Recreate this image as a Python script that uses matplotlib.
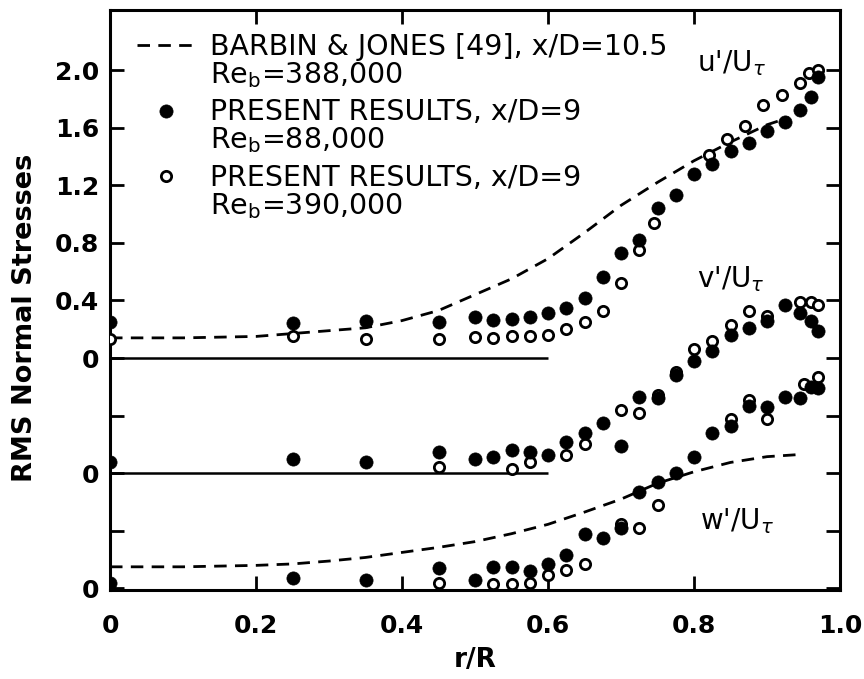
import numpy as np
import matplotlib
matplotlib.use("Agg")
import matplotlib.pyplot as plt
from matplotlib.legend_handler import HandlerLine2D
from matplotlib.lines import Line2D

# === staggering of the three profiles (in stress units) ===
V_SHIFT = -0.8
W_SHIFT = -1.6

# === Barbin & Jones [49], x/D=10.5 (dashed) ===
bj_u_r = [0.0, 0.1, 0.2, 0.25, 0.3, 0.35, 0.4, 0.45, 0.5, 0.55, 0.6, 0.65, 0.7, 0.75, 0.8, 0.85, 0.9, 0.93]
bj_u = [0.14, 0.14, 0.15, 0.17, 0.19, 0.21, 0.26, 0.33, 0.44, 0.55, 0.69, 0.87, 1.06, 1.22, 1.37, 1.50, 1.62, 1.67]
bj_w_r = [0.0, 0.1, 0.2, 0.25, 0.3, 0.35, 0.4, 0.45, 0.5, 0.55, 0.6, 0.65, 0.7, 0.75, 0.8, 0.85, 0.9, 0.945]
bj_w = [0.15, 0.15, 0.16, 0.17, 0.19, 0.215, 0.25, 0.285, 0.325, 0.38, 0.445, 0.53, 0.62, 0.73, 0.81, 0.875, 0.915, 0.93]

# === present results, Re_b=88,000 (filled) ===
r88 = [0.0, 0.25, 0.35, 0.45, 0.5, 0.525, 0.55, 0.575, 0.6, 0.625, 0.65, 0.675, 0.7,
       0.725, 0.75, 0.775, 0.8, 0.825, 0.85, 0.875, 0.9, 0.925, 0.945, 0.96, 0.97]
u88 = [0.25, 0.24, 0.26, 0.25, 0.285, 0.265, 0.27, 0.285, 0.31, 0.35, 0.42, 0.56, 0.73,
       0.82, 1.04, 1.13, 1.28, 1.35, 1.44, 1.49, 1.58, 1.64, 1.72, 1.81, 1.95]
v88 = [0.08, 0.10, 0.08, 0.15, 0.10, 0.11, 0.16, 0.15, 0.125, 0.22, 0.28, 0.35, 0.19,
       0.53, 0.52, 0.68, 0.78, 0.85, 0.96, 1.01, 1.06, 1.17, 1.11, 1.06, 0.99]
w88 = [0.04, 0.07, 0.06, 0.14, 0.055, 0.15, 0.15, 0.12, 0.17, 0.23, 0.38, 0.35, 0.42,
       0.67, 0.74, 0.80, 0.91, 1.08, 1.13, 1.27, 1.26, 1.33, 1.32, 1.40, 1.39]

# === present results, Re_b=390,000 (open) ===
r390_u = [0.0, 0.25, 0.35, 0.45, 0.5, 0.525, 0.55, 0.575, 0.6, 0.625, 0.65, 0.675, 0.7,
          0.725, 0.745, 0.82, 0.845, 0.87, 0.895, 0.92, 0.945, 0.958, 0.97]
u390 = [0.13, 0.15, 0.13, 0.13, 0.146, 0.14, 0.153, 0.153, 0.16, 0.20, 0.25, 0.33, 0.52,
        0.75, 0.94, 1.41, 1.52, 1.61, 1.76, 1.83, 1.91, 1.98, 2.00]
r390_v = [0.45, 0.55, 0.575, 0.625, 0.65, 0.7, 0.725, 0.75, 0.775, 0.8, 0.825, 0.85,
          0.875, 0.9, 0.945, 0.96, 0.97]
v390 = [0.04, 0.03, 0.08, 0.13, 0.20, 0.44, 0.42, 0.54, 0.70, 0.86, 0.92, 1.03,
        1.13, 1.09, 1.19, 1.19, 1.17]
r390_w = [0.45, 0.525, 0.55, 0.575, 0.6, 0.625, 0.65, 0.7, 0.725, 0.75, 0.85, 0.875,
          0.9, 0.95, 0.97]
w390 = [0.035, 0.03, 0.03, 0.035, 0.09, 0.125, 0.17, 0.45, 0.42, 0.58, 1.18, 1.31,
        1.18, 1.42, 1.47]

# === axis ticks ===
Y_TICKS = [-1.6, -1.2, -0.8, -0.4, 0.0, 0.4, 0.8, 1.2, 1.6, 2.0]
Y_TICK_LABELS = ["0", "", "0", "", "0", "0.4", "0.8", "1.2", "1.6", "2.0"]
X_TICKS = [0.0, 0.2, 0.4, 0.6, 0.8, 1.0]
X_TICK_LABELS = ["0", "0.2", "0.4", "0.6", "0.8", "1.0"]

LEG_LABELS = [
    "BARBIN & JONES [49], x/D=10.5\nRe$_\\mathregular{b}$=388,000",
    "PRESENT RESULTS, x/D=9\nRe$_\\mathregular{b}$=88,000",
    "PRESENT RESULTS, x/D=9\nRe$_\\mathregular{b}$=390,000",
]


class FirstLineHandler(HandlerLine2D):
    """legend symbol next to the first line of a two-line label"""
    def __init__(self, raise_by=0.5, **kw):
        super().__init__(**kw)
        self.raise_by = raise_by

    def create_artists(self, legend, orig_handle, xdescent, ydescent, width, height, fontsize, trans):
        arts = super().create_artists(legend, orig_handle, xdescent, ydescent, width, height, fontsize, trans)
        for a in arts:
            a.set_ydata(np.asarray(a.get_ydata()) + self.raise_by * fontsize)
        return arts


def shifted(vals, s):
    return np.asarray(vals) + s


fig = plt.figure(figsize=(8.64, 6.79), dpi=100)
ax = fig.add_axes([110 / 864, 1 - 590 / 679, 730 / 864, 580 / 679])

lw = 2.0
dash = dict(color="black", lw=lw, dashes=(4.5, 3.0))
ax.plot(bj_u_r, bj_u, **dash, zorder=2)
ax.plot(bj_w_r, shifted(bj_w, W_SHIFT), **dash, zorder=2)

# zero lines of the u' and v' profiles
ax.hlines([0.0, V_SHIFT], 0.0, 0.6, color="black", lw=1.8, zorder=1)

op = dict(ls="none", marker="o", ms=7.4, mfc="white", mec="black", mew=2.0, zorder=3)
fp = dict(ls="none", marker="o", ms=9.5, mfc="black", mec="black", mew=0.5, zorder=4)
ax.plot(r390_u, u390, **op)
ax.plot(r390_v, shifted(v390, V_SHIFT), **op)
ax.plot(r390_w, shifted(w390, W_SHIFT), **op)
ax.plot(r88, u88, **fp)
ax.plot(r88, shifted(v88, V_SHIFT), **fp)
ax.plot(r88, shifted(w88, W_SHIFT), **fp)

h_bj = Line2D([], [], **dash)
h_88 = Line2D([], [], **fp)
h_390 = Line2D([], [], **op)
leg = ax.legend([h_bj, h_88, h_390], LEG_LABELS, loc="upper left",
                bbox_to_anchor=(0.037, 0.961), frameon=False, fontsize=20.5,
                handlelength=2.05, handletextpad=0.53, labelspacing=0.3,
                borderpad=0, borderaxespad=0, numpoints=1,
                handler_map={Line2D: FirstLineHandler(raise_by=0.6)})
for t in leg.get_texts():
    t.set_linespacing(0.97)

# profile names
ax.text(0.804, 1.99, "u'/U$_\\tau$", fontsize=20)
ax.text(0.804, 1.29 + V_SHIFT, "v'/U$_\\tau$", fontsize=20)
ax.text(0.808, 0.41 + W_SHIFT, "w'/U$_\\tau$", fontsize=20)

ax.set_xlim(0, 1.0)
ax.set_ylim(-1.611, 2.417)
ax.set_xticks(X_TICKS, X_TICK_LABELS)
ax.set_yticks(Y_TICKS, Y_TICK_LABELS)
ax.tick_params(axis="both", direction="in", length=10, width=2, top=True, right=True,
               labelsize=18)
ax.tick_params(axis="x", pad=17)
ax.tick_params(axis="y", pad=8)
for lab in ax.get_xticklabels() + ax.get_yticklabels():
    lab.set_fontweight("bold")
for sp in ax.spines.values():
    sp.set_linewidth(2.2)

ax.set_xlabel("r/R", fontsize=19, fontweight="bold")
ax.set_ylabel("RMS Normal Stresses", fontsize=19.5, fontweight="bold")
ax.xaxis.set_label_coords(0.5, -0.098)
ax.yaxis.set_label_coords(-0.099, 0.47)

fig.savefig("out.png", dpi=100)
